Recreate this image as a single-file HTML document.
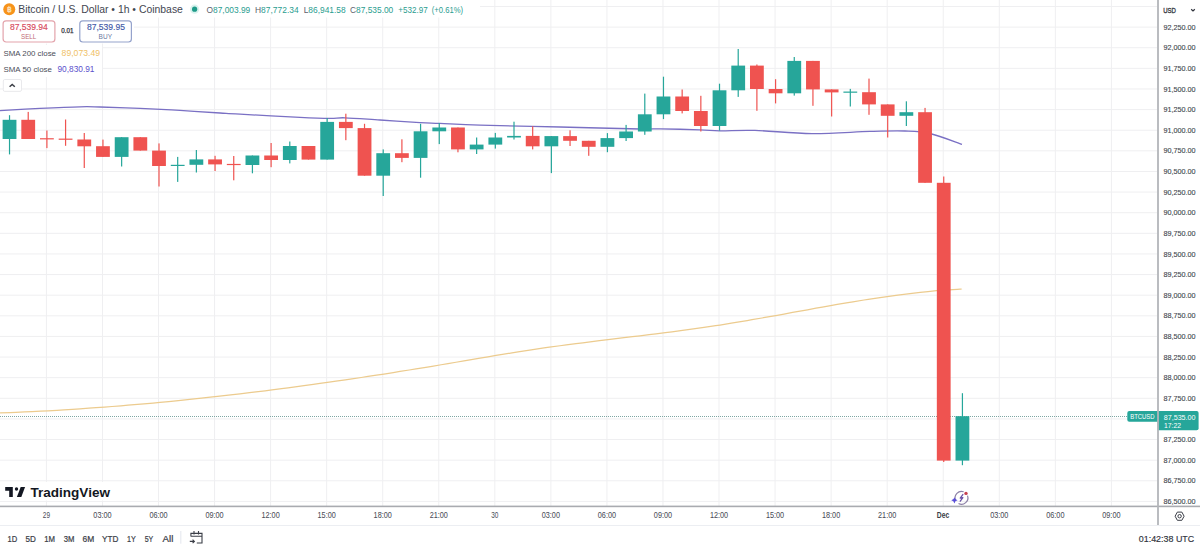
<!DOCTYPE html><html><head><meta charset="utf-8"><style>
html,body{margin:0;padding:0;background:#fff;width:1200px;height:547px;overflow:hidden}
svg{display:block}
text{font-family:"Liberation Sans",sans-serif}
</style></head><body>
<svg width="1200" height="547" viewBox="0 0 1200 547">
<rect width="1200" height="547" fill="#fff"/>

<rect x="0" y="5.98" width="1157.5" height="1" fill="#efeff1"/>
<rect x="0" y="26.60" width="1157.5" height="1" fill="#efeff1"/>
<rect x="0" y="47.22" width="1157.5" height="1" fill="#efeff1"/>
<rect x="0" y="67.84" width="1157.5" height="1" fill="#efeff1"/>
<rect x="0" y="88.47" width="1157.5" height="1" fill="#efeff1"/>
<rect x="0" y="109.09" width="1157.5" height="1" fill="#efeff1"/>
<rect x="0" y="129.71" width="1157.5" height="1" fill="#efeff1"/>
<rect x="0" y="150.33" width="1157.5" height="1" fill="#efeff1"/>
<rect x="0" y="170.95" width="1157.5" height="1" fill="#efeff1"/>
<rect x="0" y="191.58" width="1157.5" height="1" fill="#efeff1"/>
<rect x="0" y="212.20" width="1157.5" height="1" fill="#efeff1"/>
<rect x="0" y="232.82" width="1157.5" height="1" fill="#efeff1"/>
<rect x="0" y="253.44" width="1157.5" height="1" fill="#efeff1"/>
<rect x="0" y="274.06" width="1157.5" height="1" fill="#efeff1"/>
<rect x="0" y="294.69" width="1157.5" height="1" fill="#efeff1"/>
<rect x="0" y="315.31" width="1157.5" height="1" fill="#efeff1"/>
<rect x="0" y="335.93" width="1157.5" height="1" fill="#efeff1"/>
<rect x="0" y="356.55" width="1157.5" height="1" fill="#efeff1"/>
<rect x="0" y="377.17" width="1157.5" height="1" fill="#efeff1"/>
<rect x="0" y="397.80" width="1157.5" height="1" fill="#efeff1"/>
<rect x="0" y="418.42" width="1157.5" height="1" fill="#efeff1"/>
<rect x="0" y="439.04" width="1157.5" height="1" fill="#efeff1"/>
<rect x="0" y="459.66" width="1157.5" height="1" fill="#efeff1"/>
<rect x="0" y="480.28" width="1157.5" height="1" fill="#efeff1"/>
<rect x="0" y="500.91" width="1157.5" height="1" fill="#efeff1"/>
<rect x="45.90" y="0" width="1" height="506" fill="#efeff1"/>
<rect x="101.95" y="0" width="1" height="506" fill="#efeff1"/>
<rect x="158.00" y="0" width="1" height="506" fill="#efeff1"/>
<rect x="214.06" y="0" width="1" height="506" fill="#efeff1"/>
<rect x="270.11" y="0" width="1" height="506" fill="#efeff1"/>
<rect x="326.16" y="0" width="1" height="506" fill="#efeff1"/>
<rect x="382.21" y="0" width="1" height="506" fill="#efeff1"/>
<rect x="438.26" y="0" width="1" height="506" fill="#efeff1"/>
<rect x="494.32" y="0" width="1" height="506" fill="#efeff1"/>
<rect x="550.37" y="0" width="1" height="506" fill="#efeff1"/>
<rect x="606.42" y="0" width="1" height="506" fill="#efeff1"/>
<rect x="662.47" y="0" width="1" height="506" fill="#efeff1"/>
<rect x="718.52" y="0" width="1" height="506" fill="#efeff1"/>
<rect x="774.58" y="0" width="1" height="506" fill="#efeff1"/>
<rect x="830.63" y="0" width="1" height="506" fill="#efeff1"/>
<rect x="886.68" y="0" width="1" height="506" fill="#efeff1"/>
<rect x="942.73" y="0" width="1" height="506" fill="#efeff1"/>
<rect x="998.78" y="0" width="1" height="506" fill="#efeff1"/>
<rect x="1054.84" y="0" width="1" height="506" fill="#efeff1"/>
<rect x="1110.89" y="0" width="1" height="506" fill="#efeff1"/>
<path d="M0.00 412.99 C2.67 412.88 10.67 412.58 16.00 412.35 C21.33 412.12 26.67 411.87 32.00 411.61 C37.33 411.34 42.67 411.07 48.00 410.77 C53.33 410.48 58.67 410.17 64.00 409.84 C69.33 409.51 74.67 409.17 80.00 408.82 C85.33 408.46 90.67 408.09 96.00 407.70 C101.33 407.31 106.67 406.91 112.00 406.50 C117.33 406.08 122.67 405.65 128.00 405.20 C133.33 404.76 138.67 404.30 144.00 403.82 C149.33 403.35 154.67 402.86 160.00 402.36 C165.33 401.86 170.67 401.34 176.00 400.82 C181.33 400.29 186.67 399.75 192.00 399.19 C197.33 398.63 202.67 398.07 208.00 397.48 C213.33 396.90 218.67 396.31 224.00 395.70 C229.33 395.09 234.67 394.47 240.00 393.84 C245.33 393.21 250.67 392.57 256.00 391.91 C261.33 391.25 266.67 390.59 272.00 389.91 C277.33 389.23 282.67 388.54 288.00 387.83 C293.33 387.13 298.67 386.41 304.00 385.69 C309.33 384.96 314.67 384.23 320.00 383.48 C325.33 382.73 330.67 381.97 336.00 381.20 C341.33 380.43 346.67 379.66 352.00 378.87 C357.33 378.08 362.67 377.28 368.00 376.47 C373.33 375.66 378.67 374.83 384.00 374.01 C389.33 373.18 394.67 372.34 400.00 371.49 C405.33 370.64 410.67 369.78 416.00 368.91 C421.33 368.05 426.67 367.17 432.00 366.28 C437.33 365.40 442.67 364.50 448.00 363.60 C453.33 362.70 458.67 361.79 464.00 360.89 C469.33 359.98 474.67 359.07 480.00 358.17 C485.33 357.28 490.67 356.38 496.00 355.49 C501.33 354.61 506.67 353.73 512.00 352.88 C517.33 352.03 522.67 351.18 528.00 350.37 C533.33 349.55 538.67 348.75 544.00 347.99 C549.33 347.22 554.67 346.48 560.00 345.75 C565.33 345.03 570.67 344.33 576.00 343.64 C581.33 342.95 586.67 342.28 592.00 341.61 C597.33 340.95 602.67 340.30 608.00 339.65 C613.33 339.00 618.67 338.36 624.00 337.71 C629.33 337.07 634.67 336.43 640.00 335.78 C645.33 335.13 650.67 334.48 656.00 333.81 C661.33 333.15 666.67 332.47 672.00 331.78 C677.33 331.09 682.67 330.39 688.00 329.66 C693.33 328.93 698.67 328.19 704.00 327.42 C709.33 326.65 714.67 325.85 720.00 325.02 C725.33 324.20 730.67 323.34 736.00 322.46 C741.33 321.58 746.67 320.67 752.00 319.74 C757.33 318.82 762.67 317.88 768.00 316.93 C773.33 315.98 778.67 315.01 784.00 314.04 C789.33 313.08 794.67 312.10 800.00 311.13 C805.33 310.17 810.67 309.19 816.00 308.24 C821.33 307.28 826.67 306.32 832.00 305.39 C837.33 304.45 842.67 303.53 848.00 302.63 C853.33 301.73 858.67 300.85 864.00 300.00 C869.33 299.15 874.67 298.33 880.00 297.54 C885.33 296.75 890.67 296.00 896.00 295.28 C901.33 294.57 906.67 293.90 912.00 293.27 C917.33 292.65 922.67 292.07 928.00 291.55 C933.33 291.03 938.67 290.55 944.00 290.15 C949.33 289.74 957.17 289.29 960.00 289.11 C962.83 288.93 960.83 289.06 961.00 289.06" fill="none" stroke="#eccb8e" stroke-width="1.25"/>
<path d="M0.00 110.60 C6.67 110.23 26.67 109.03 40.00 108.40 C53.33 107.77 70.00 107.03 80.00 106.80 C90.00 106.57 90.00 106.73 100.00 107.00 C110.00 107.27 126.67 107.83 140.00 108.40 C153.33 108.97 166.67 109.63 180.00 110.40 C193.33 111.17 210.00 112.37 220.00 113.00 C230.00 113.63 226.67 113.47 240.00 114.20 C253.33 114.93 285.00 116.70 300.00 117.40 C315.00 118.10 322.50 118.33 330.00 118.40 C337.50 118.47 336.67 117.53 345.00 117.80 C353.33 118.07 367.50 119.20 380.00 120.00 C392.50 120.80 410.00 122.03 420.00 122.60 C430.00 123.17 430.00 122.97 440.00 123.40 C450.00 123.83 460.00 124.60 480.00 125.20 C500.00 125.80 533.33 126.37 560.00 127.00 C586.67 127.63 623.33 128.70 640.00 129.00 C656.67 129.30 650.00 128.67 660.00 128.80 C670.00 128.93 690.00 129.47 700.00 129.80 C710.00 130.13 710.83 130.70 720.00 130.80 C729.17 130.90 739.67 129.93 755.00 130.40 C770.33 130.87 792.83 133.43 812.00 133.60 C831.17 133.77 854.50 131.83 870.00 131.40 C885.50 130.97 895.00 130.65 905.00 131.00 C915.00 131.35 920.50 131.27 930.00 133.50 C939.50 135.73 956.67 142.58 962.00 144.40" fill="none" stroke="#7a70c4" stroke-width="1.3"/>
<line x1="0" y1="416.5" x2="1157" y2="416.5" stroke="#7fa6a3" stroke-width="1" stroke-dasharray="1 1"/>
<rect x="8.93" y="115.20" width="1.2" height="39.20" fill="#26a69a"/>
<rect x="2.63" y="119.80" width="13.80" height="19.20" fill="#26a69a"/>
<rect x="27.62" y="111.90" width="1.2" height="27.10" fill="#ef5350"/>
<rect x="21.32" y="119.80" width="13.80" height="19.20" fill="#ef5350"/>
<rect x="46.30" y="130.50" width="1.2" height="17.60" fill="#ef5350"/>
<rect x="40.00" y="138.20" width="13.80" height="1.20" fill="#ef5350"/>
<rect x="64.98" y="119.50" width="1.2" height="26.30" fill="#ef5350"/>
<rect x="58.68" y="138.60" width="13.80" height="1.20" fill="#ef5350"/>
<rect x="83.67" y="133.00" width="1.2" height="35.00" fill="#ef5350"/>
<rect x="77.37" y="139.50" width="13.80" height="6.80" fill="#ef5350"/>
<rect x="102.35" y="139.60" width="1.2" height="17.30" fill="#ef5350"/>
<rect x="96.05" y="146.20" width="13.80" height="10.70" fill="#ef5350"/>
<rect x="121.04" y="137.20" width="1.2" height="29.30" fill="#26a69a"/>
<rect x="114.74" y="137.20" width="13.80" height="19.70" fill="#26a69a"/>
<rect x="139.72" y="137.20" width="1.2" height="13.40" fill="#ef5350"/>
<rect x="133.42" y="137.20" width="13.80" height="13.40" fill="#ef5350"/>
<rect x="158.40" y="143.40" width="1.2" height="43.10" fill="#ef5350"/>
<rect x="152.10" y="150.60" width="13.80" height="15.40" fill="#ef5350"/>
<rect x="177.09" y="156.90" width="1.2" height="25.00" fill="#26a69a"/>
<rect x="170.79" y="164.80" width="13.80" height="1.20" fill="#26a69a"/>
<rect x="195.77" y="150.00" width="1.2" height="22.50" fill="#26a69a"/>
<rect x="189.47" y="159.40" width="13.80" height="5.40" fill="#26a69a"/>
<rect x="214.46" y="155.80" width="1.2" height="15.20" fill="#ef5350"/>
<rect x="208.16" y="159.40" width="13.80" height="5.00" fill="#ef5350"/>
<rect x="233.14" y="156.00" width="1.2" height="24.30" fill="#ef5350"/>
<rect x="226.84" y="163.90" width="13.80" height="1.20" fill="#ef5350"/>
<rect x="251.82" y="155.50" width="1.2" height="17.80" fill="#26a69a"/>
<rect x="245.52" y="155.50" width="13.80" height="9.50" fill="#26a69a"/>
<rect x="270.51" y="143.00" width="1.2" height="24.20" fill="#ef5350"/>
<rect x="264.21" y="155.50" width="13.80" height="4.50" fill="#ef5350"/>
<rect x="289.19" y="141.50" width="1.2" height="21.90" fill="#26a69a"/>
<rect x="282.89" y="146.00" width="13.80" height="14.00" fill="#26a69a"/>
<rect x="307.88" y="146.00" width="1.2" height="13.60" fill="#ef5350"/>
<rect x="301.58" y="146.00" width="13.80" height="13.60" fill="#ef5350"/>
<rect x="326.56" y="118.00" width="1.2" height="41.60" fill="#26a69a"/>
<rect x="320.26" y="121.90" width="13.80" height="37.70" fill="#26a69a"/>
<rect x="345.24" y="113.70" width="1.2" height="26.50" fill="#ef5350"/>
<rect x="338.94" y="121.90" width="13.80" height="6.20" fill="#ef5350"/>
<rect x="363.93" y="123.80" width="1.2" height="51.90" fill="#ef5350"/>
<rect x="357.63" y="128.10" width="13.80" height="47.60" fill="#ef5350"/>
<rect x="382.61" y="149.40" width="1.2" height="46.60" fill="#26a69a"/>
<rect x="376.31" y="153.20" width="13.80" height="22.50" fill="#26a69a"/>
<rect x="401.30" y="139.30" width="1.2" height="22.90" fill="#ef5350"/>
<rect x="395.00" y="153.20" width="13.80" height="4.70" fill="#ef5350"/>
<rect x="419.98" y="123.80" width="1.2" height="53.90" fill="#26a69a"/>
<rect x="413.68" y="131.30" width="13.80" height="26.60" fill="#26a69a"/>
<rect x="438.66" y="123.00" width="1.2" height="21.10" fill="#26a69a"/>
<rect x="432.36" y="127.50" width="13.80" height="3.80" fill="#26a69a"/>
<rect x="457.35" y="127.50" width="1.2" height="24.80" fill="#ef5350"/>
<rect x="451.05" y="127.50" width="13.80" height="21.90" fill="#ef5350"/>
<rect x="476.03" y="137.50" width="1.2" height="16.50" fill="#26a69a"/>
<rect x="469.73" y="144.60" width="13.80" height="4.80" fill="#26a69a"/>
<rect x="494.72" y="132.90" width="1.2" height="15.70" fill="#26a69a"/>
<rect x="488.42" y="137.50" width="13.80" height="7.10" fill="#26a69a"/>
<rect x="513.40" y="121.70" width="1.2" height="17.80" fill="#26a69a"/>
<rect x="507.10" y="135.90" width="13.80" height="1.60" fill="#26a69a"/>
<rect x="532.08" y="126.30" width="1.2" height="23.10" fill="#ef5350"/>
<rect x="525.78" y="135.90" width="13.80" height="10.40" fill="#ef5350"/>
<rect x="550.77" y="136.10" width="1.2" height="37.00" fill="#26a69a"/>
<rect x="544.47" y="136.10" width="13.80" height="10.20" fill="#26a69a"/>
<rect x="569.45" y="130.30" width="1.2" height="15.70" fill="#ef5350"/>
<rect x="563.15" y="136.10" width="13.80" height="4.70" fill="#ef5350"/>
<rect x="588.14" y="140.80" width="1.2" height="15.00" fill="#ef5350"/>
<rect x="581.84" y="140.80" width="13.80" height="6.00" fill="#ef5350"/>
<rect x="606.82" y="133.10" width="1.2" height="19.10" fill="#26a69a"/>
<rect x="600.52" y="138.10" width="13.80" height="8.70" fill="#26a69a"/>
<rect x="625.50" y="124.90" width="1.2" height="16.10" fill="#26a69a"/>
<rect x="619.20" y="131.50" width="13.80" height="6.60" fill="#26a69a"/>
<rect x="644.19" y="93.60" width="1.2" height="41.20" fill="#26a69a"/>
<rect x="637.89" y="114.30" width="13.80" height="17.20" fill="#26a69a"/>
<rect x="662.87" y="76.70" width="1.2" height="42.40" fill="#26a69a"/>
<rect x="656.57" y="96.50" width="13.80" height="17.80" fill="#26a69a"/>
<rect x="681.56" y="89.50" width="1.2" height="23.90" fill="#ef5350"/>
<rect x="675.26" y="96.50" width="13.80" height="14.50" fill="#ef5350"/>
<rect x="700.24" y="95.80" width="1.2" height="35.70" fill="#ef5350"/>
<rect x="693.94" y="111.00" width="13.80" height="15.00" fill="#ef5350"/>
<rect x="718.92" y="83.70" width="1.2" height="47.00" fill="#26a69a"/>
<rect x="712.62" y="90.30" width="13.80" height="35.70" fill="#26a69a"/>
<rect x="737.61" y="49.00" width="1.2" height="47.90" fill="#26a69a"/>
<rect x="731.31" y="65.60" width="13.80" height="24.70" fill="#26a69a"/>
<rect x="756.29" y="64.50" width="1.2" height="46.30" fill="#ef5350"/>
<rect x="749.99" y="65.60" width="13.80" height="23.40" fill="#ef5350"/>
<rect x="774.98" y="79.20" width="1.2" height="24.20" fill="#ef5350"/>
<rect x="768.68" y="89.00" width="13.80" height="4.30" fill="#ef5350"/>
<rect x="793.66" y="57.00" width="1.2" height="38.60" fill="#26a69a"/>
<rect x="787.36" y="60.90" width="13.80" height="32.40" fill="#26a69a"/>
<rect x="812.34" y="60.90" width="1.2" height="44.90" fill="#ef5350"/>
<rect x="806.04" y="60.90" width="13.80" height="28.50" fill="#ef5350"/>
<rect x="831.03" y="89.40" width="1.2" height="27.10" fill="#ef5350"/>
<rect x="824.73" y="89.40" width="13.80" height="3.00" fill="#ef5350"/>
<rect x="849.71" y="88.90" width="1.2" height="17.60" fill="#26a69a"/>
<rect x="843.41" y="91.55" width="13.80" height="1.20" fill="#26a69a"/>
<rect x="868.40" y="78.60" width="1.2" height="36.20" fill="#ef5350"/>
<rect x="862.10" y="92.20" width="13.80" height="12.20" fill="#ef5350"/>
<rect x="887.08" y="104.40" width="1.2" height="33.10" fill="#ef5350"/>
<rect x="880.78" y="104.40" width="13.80" height="11.40" fill="#ef5350"/>
<rect x="905.76" y="101.30" width="1.2" height="24.70" fill="#26a69a"/>
<rect x="899.46" y="112.20" width="13.80" height="3.60" fill="#26a69a"/>
<rect x="924.45" y="107.90" width="1.2" height="74.90" fill="#ef5350"/>
<rect x="918.15" y="112.20" width="13.80" height="70.60" fill="#ef5350"/>
<rect x="943.13" y="176.50" width="1.2" height="285.50" fill="#ef5350"/>
<rect x="936.83" y="182.80" width="13.80" height="277.80" fill="#ef5350"/>
<rect x="961.82" y="393.20" width="1.2" height="72.00" fill="#26a69a"/>
<rect x="955.52" y="416.20" width="13.80" height="44.40" fill="#26a69a"/>
<rect x="0" y="505.6" width="1200" height="1.6" fill="#a9abb0"/>
<rect x="0" y="525" width="1200" height="1" fill="#eceef2"/>
<text x="1163.40" y="29.70" font-size="7.20" fill="#43464f" stroke="#43464f" stroke-width="0.12" textLength="32.20" lengthAdjust="spacingAndGlyphs">92,250.00</text>
<text x="1163.40" y="50.32" font-size="7.20" fill="#43464f" stroke="#43464f" stroke-width="0.12" textLength="32.20" lengthAdjust="spacingAndGlyphs">92,000.00</text>
<text x="1163.40" y="70.94" font-size="7.20" fill="#43464f" stroke="#43464f" stroke-width="0.12" textLength="32.20" lengthAdjust="spacingAndGlyphs">91,750.00</text>
<text x="1163.40" y="91.57" font-size="7.20" fill="#43464f" stroke="#43464f" stroke-width="0.12" textLength="32.20" lengthAdjust="spacingAndGlyphs">91,500.00</text>
<text x="1163.40" y="112.19" font-size="7.20" fill="#43464f" stroke="#43464f" stroke-width="0.12" textLength="32.20" lengthAdjust="spacingAndGlyphs">91,250.00</text>
<text x="1163.40" y="132.81" font-size="7.20" fill="#43464f" stroke="#43464f" stroke-width="0.12" textLength="32.20" lengthAdjust="spacingAndGlyphs">91,000.00</text>
<text x="1163.40" y="153.43" font-size="7.20" fill="#43464f" stroke="#43464f" stroke-width="0.12" textLength="32.20" lengthAdjust="spacingAndGlyphs">90,750.00</text>
<text x="1163.40" y="174.05" font-size="7.20" fill="#43464f" stroke="#43464f" stroke-width="0.12" textLength="32.20" lengthAdjust="spacingAndGlyphs">90,500.00</text>
<text x="1163.40" y="194.68" font-size="7.20" fill="#43464f" stroke="#43464f" stroke-width="0.12" textLength="32.20" lengthAdjust="spacingAndGlyphs">90,250.00</text>
<text x="1163.40" y="215.30" font-size="7.20" fill="#43464f" stroke="#43464f" stroke-width="0.12" textLength="32.20" lengthAdjust="spacingAndGlyphs">90,000.00</text>
<text x="1163.40" y="235.92" font-size="7.20" fill="#43464f" stroke="#43464f" stroke-width="0.12" textLength="32.20" lengthAdjust="spacingAndGlyphs">89,750.00</text>
<text x="1163.40" y="256.54" font-size="7.20" fill="#43464f" stroke="#43464f" stroke-width="0.12" textLength="32.20" lengthAdjust="spacingAndGlyphs">89,500.00</text>
<text x="1163.40" y="277.16" font-size="7.20" fill="#43464f" stroke="#43464f" stroke-width="0.12" textLength="32.20" lengthAdjust="spacingAndGlyphs">89,250.00</text>
<text x="1163.40" y="297.79" font-size="7.20" fill="#43464f" stroke="#43464f" stroke-width="0.12" textLength="32.20" lengthAdjust="spacingAndGlyphs">89,000.00</text>
<text x="1163.40" y="318.41" font-size="7.20" fill="#43464f" stroke="#43464f" stroke-width="0.12" textLength="32.20" lengthAdjust="spacingAndGlyphs">88,750.00</text>
<text x="1163.40" y="339.03" font-size="7.20" fill="#43464f" stroke="#43464f" stroke-width="0.12" textLength="32.20" lengthAdjust="spacingAndGlyphs">88,500.00</text>
<text x="1163.40" y="359.65" font-size="7.20" fill="#43464f" stroke="#43464f" stroke-width="0.12" textLength="32.20" lengthAdjust="spacingAndGlyphs">88,250.00</text>
<text x="1163.40" y="380.27" font-size="7.20" fill="#43464f" stroke="#43464f" stroke-width="0.12" textLength="32.20" lengthAdjust="spacingAndGlyphs">88,000.00</text>
<text x="1163.40" y="400.90" font-size="7.20" fill="#43464f" stroke="#43464f" stroke-width="0.12" textLength="32.20" lengthAdjust="spacingAndGlyphs">87,750.00</text>
<text x="1163.40" y="442.14" font-size="7.20" fill="#43464f" stroke="#43464f" stroke-width="0.12" textLength="32.20" lengthAdjust="spacingAndGlyphs">87,250.00</text>
<text x="1163.40" y="462.76" font-size="7.20" fill="#43464f" stroke="#43464f" stroke-width="0.12" textLength="32.20" lengthAdjust="spacingAndGlyphs">87,000.00</text>
<text x="1163.40" y="483.38" font-size="7.20" fill="#43464f" stroke="#43464f" stroke-width="0.12" textLength="32.20" lengthAdjust="spacingAndGlyphs">86,750.00</text>
<text x="1163.40" y="504.01" font-size="7.20" fill="#43464f" stroke="#43464f" stroke-width="0.12" textLength="32.20" lengthAdjust="spacingAndGlyphs">86,500.00</text>
<text x="1163.20" y="12.60" font-size="7.60" fill="#2f323b" stroke="#2f323b" stroke-width="0.30" textLength="12.80" lengthAdjust="spacingAndGlyphs">USD</text>
<path d="M1191.2 9.2 L1193 10.9 L1194.8 9.2" fill="none" stroke="#2f323b" stroke-width="1.2"/>
<path d="M1129.3 411 H1158 V421.8 H1129.3 Q1127.3 421.8 1127.3 419.8 V413 Q1127.3 411 1129.3 411Z" fill="#26a69a"/>
<text x="1130.20" y="419.30" font-size="6.30" fill="#fff" textLength="24.30" lengthAdjust="spacingAndGlyphs">BTCUSD</text>
<path d="M1157.5 411 H1196.6 Q1198.6 411 1198.6 413 V428.3 Q1198.6 430.3 1196.6 430.3 H1157.5Z" fill="#26a69a"/>
<text x="1163.80" y="419.80" font-size="7.20" fill="#fff" textLength="31.70" lengthAdjust="spacingAndGlyphs">87,535.00</text>
<text x="1164.00" y="428.30" font-size="7.00" fill="#fff" textLength="17.00" lengthAdjust="spacingAndGlyphs">17:22</text>
<rect x="1157.1" y="0" width="1.8" height="525" fill="#b3b5ba"/>
<text x="42.80" y="518.10" font-size="8.40" fill="#4a4d57" textLength="7.20" lengthAdjust="spacingAndGlyphs">29</text>
<text x="93.35" y="518.10" font-size="8.40" fill="#4a4d57" stroke="#4a4d57" stroke-width="0.05" textLength="18.20" lengthAdjust="spacingAndGlyphs">03:00</text>
<text x="149.40" y="518.10" font-size="8.40" fill="#4a4d57" stroke="#4a4d57" stroke-width="0.05" textLength="18.20" lengthAdjust="spacingAndGlyphs">06:00</text>
<text x="205.46" y="518.10" font-size="8.40" fill="#4a4d57" stroke="#4a4d57" stroke-width="0.05" textLength="18.20" lengthAdjust="spacingAndGlyphs">09:00</text>
<text x="261.51" y="518.10" font-size="8.40" fill="#4a4d57" stroke="#4a4d57" stroke-width="0.05" textLength="18.20" lengthAdjust="spacingAndGlyphs">12:00</text>
<text x="317.56" y="518.10" font-size="8.40" fill="#4a4d57" stroke="#4a4d57" stroke-width="0.05" textLength="18.20" lengthAdjust="spacingAndGlyphs">15:00</text>
<text x="373.61" y="518.10" font-size="8.40" fill="#4a4d57" stroke="#4a4d57" stroke-width="0.05" textLength="18.20" lengthAdjust="spacingAndGlyphs">18:00</text>
<text x="429.66" y="518.10" font-size="8.40" fill="#4a4d57" stroke="#4a4d57" stroke-width="0.05" textLength="18.20" lengthAdjust="spacingAndGlyphs">21:00</text>
<text x="491.22" y="518.10" font-size="8.40" fill="#4a4d57" textLength="7.20" lengthAdjust="spacingAndGlyphs">30</text>
<text x="541.77" y="518.10" font-size="8.40" fill="#4a4d57" stroke="#4a4d57" stroke-width="0.05" textLength="18.20" lengthAdjust="spacingAndGlyphs">03:00</text>
<text x="597.82" y="518.10" font-size="8.40" fill="#4a4d57" stroke="#4a4d57" stroke-width="0.05" textLength="18.20" lengthAdjust="spacingAndGlyphs">06:00</text>
<text x="653.87" y="518.10" font-size="8.40" fill="#4a4d57" stroke="#4a4d57" stroke-width="0.05" textLength="18.20" lengthAdjust="spacingAndGlyphs">09:00</text>
<text x="709.92" y="518.10" font-size="8.40" fill="#4a4d57" stroke="#4a4d57" stroke-width="0.05" textLength="18.20" lengthAdjust="spacingAndGlyphs">12:00</text>
<text x="765.98" y="518.10" font-size="8.40" fill="#4a4d57" stroke="#4a4d57" stroke-width="0.05" textLength="18.20" lengthAdjust="spacingAndGlyphs">15:00</text>
<text x="822.03" y="518.10" font-size="8.40" fill="#4a4d57" stroke="#4a4d57" stroke-width="0.05" textLength="18.20" lengthAdjust="spacingAndGlyphs">18:00</text>
<text x="878.08" y="518.10" font-size="8.40" fill="#4a4d57" stroke="#4a4d57" stroke-width="0.05" textLength="18.20" lengthAdjust="spacingAndGlyphs">21:00</text>
<text x="936.75" y="518.10" font-size="8.60" fill="#3b3e47" font-weight="bold" textLength="12.45" lengthAdjust="spacingAndGlyphs">Dec</text>
<text x="990.18" y="518.10" font-size="8.40" fill="#4a4d57" stroke="#4a4d57" stroke-width="0.05" textLength="18.20" lengthAdjust="spacingAndGlyphs">03:00</text>
<text x="1046.24" y="518.10" font-size="8.40" fill="#4a4d57" stroke="#4a4d57" stroke-width="0.05" textLength="18.20" lengthAdjust="spacingAndGlyphs">06:00</text>
<text x="1102.29" y="518.10" font-size="8.40" fill="#4a4d57" stroke="#4a4d57" stroke-width="0.05" textLength="18.20" lengthAdjust="spacingAndGlyphs">09:00</text>
<path d="M1175.1 516.2 L1177.35 512.1 H1181.85 L1184.1 516.2 L1181.85 520.3 H1177.35Z" fill="none" stroke="#3b3e47" stroke-width="1"/>
<circle cx="1179.6" cy="516.2" r="1.7" fill="none" stroke="#3b3e47" stroke-width="1"/>
<text x="7.50" y="541.80" font-size="8.90" fill="#3b3e47" stroke="#3b3e47" stroke-width="0.22" textLength="9.70" lengthAdjust="spacingAndGlyphs">1D</text>
<text x="25.50" y="541.80" font-size="8.90" fill="#3b3e47" stroke="#3b3e47" stroke-width="0.22" textLength="10.30" lengthAdjust="spacingAndGlyphs">5D</text>
<text x="44.20" y="541.80" font-size="8.90" fill="#3b3e47" stroke="#3b3e47" stroke-width="0.22" textLength="10.80" lengthAdjust="spacingAndGlyphs">1M</text>
<text x="63.80" y="541.80" font-size="8.90" fill="#3b3e47" stroke="#3b3e47" stroke-width="0.22" textLength="10.70" lengthAdjust="spacingAndGlyphs">3M</text>
<text x="82.50" y="541.80" font-size="8.90" fill="#3b3e47" stroke="#3b3e47" stroke-width="0.22" textLength="11.70" lengthAdjust="spacingAndGlyphs">6M</text>
<text x="102.00" y="541.80" font-size="8.90" fill="#3b3e47" stroke="#3b3e47" stroke-width="0.22" textLength="16.30" lengthAdjust="spacingAndGlyphs">YTD</text>
<text x="127.00" y="541.80" font-size="8.90" fill="#3b3e47" stroke="#3b3e47" stroke-width="0.22" textLength="8.80" lengthAdjust="spacingAndGlyphs">1Y</text>
<text x="144.70" y="541.80" font-size="8.90" fill="#3b3e47" stroke="#3b3e47" stroke-width="0.22" textLength="8.60" lengthAdjust="spacingAndGlyphs">5Y</text>
<text x="162.50" y="541.80" font-size="8.90" fill="#3b3e47" stroke="#3b3e47" stroke-width="0.22" textLength="10.80" lengthAdjust="spacingAndGlyphs">All</text>
<rect x="180.4" y="531" width="0.9" height="12.7" fill="#e0e3eb"/>
<path d="M190.9 536.5 V533.4 H202 V543 H196.8 M190.9 536.3 H202 M194 531 V534.5 M198.5 531 V534.5 M189.8 541.4 H194.2 M192.6 539.6 L194.4 541.4 L192.6 543.2" fill="none" stroke="#3b3e47" stroke-width="1.1"/>
<text x="1138.80" y="541.60" font-size="8.80" fill="#2f323b" stroke="#2f323b" stroke-width="0.15" textLength="55.40" lengthAdjust="spacingAndGlyphs">01:42:38 UTC</text>
<rect x="0" y="0" width="480" height="17.5" fill="#fff"/>
<rect x="0" y="17" width="134" height="26.5" fill="#fff"/>
<rect x="0" y="45" width="102" height="32" fill="#fff"/>
<circle cx="9.25" cy="9.2" r="6" fill="#f7931a"/>
<text x="9.3" y="11.7" font-size="6.6" fill="#fbe3bd" text-anchor="middle" font-weight="bold">B</text>
<rect x="8.2" y="5.9" width="0.6" height="7.0" fill="#fbe3bd"/><rect x="9.6" y="5.9" width="0.6" height="7.0" fill="#fbe3bd"/>
<text x="18.20" y="12.90" font-size="10.20" fill="#434651" textLength="164.70" lengthAdjust="spacingAndGlyphs">Bitcoin / U.S. Dollar • 1h • Coinbase</text>
<circle cx="194.6" cy="9.2" r="4.6" fill="#d9f2ee"/><circle cx="194.6" cy="9.2" r="2.6" fill="#1e9a88"/>
<text x="206.50" y="12.60" font-size="9.00" fill="#5d606b" textLength="43.80" lengthAdjust="spacingAndGlyphs">O<tspan fill="#2a9d8f">87,003.99</tspan></text>
<text x="255.00" y="12.60" font-size="9.00" fill="#5d606b" textLength="43.70" lengthAdjust="spacingAndGlyphs">H<tspan fill="#2a9d8f">87,772.34</tspan></text>
<text x="303.70" y="12.60" font-size="9.00" fill="#5d606b" textLength="42.00" lengthAdjust="spacingAndGlyphs">L<tspan fill="#2a9d8f">86,941.58</tspan></text>
<text x="350.00" y="12.60" font-size="9.00" fill="#5d606b" textLength="43.30" lengthAdjust="spacingAndGlyphs">C<tspan fill="#2a9d8f">87,535.00</tspan></text>
<text x="398.30" y="12.60" font-size="9.00" fill="#2a9d8f" textLength="29.40" lengthAdjust="spacingAndGlyphs">+532.97</text>
<text x="431.80" y="12.60" font-size="9.00" fill="#2a9d8f" textLength="31.20" lengthAdjust="spacingAndGlyphs">(+0.61%)</text>
<rect x="3.1" y="20.8" width="51.8" height="21.2" rx="3" fill="#fff" stroke="#e3a3ab" stroke-width="1.2"/>
<text x="9.90" y="29.50" font-size="8.50" fill="#d84a5c" stroke="#d84a5c" stroke-width="0.15" textLength="37.90" lengthAdjust="spacingAndGlyphs">87,539.94</text>
<text x="21.00" y="38.50" font-size="6.60" fill="#c06a74" textLength="15.20" lengthAdjust="spacingAndGlyphs">SELL</text>
<text x="61.30" y="33.20" font-size="6.60" fill="#2f323b" stroke="#2f323b" stroke-width="0.25" textLength="12.20" lengthAdjust="spacingAndGlyphs">0.01</text>
<rect x="79.8" y="20.8" width="51.6" height="21.2" rx="3" fill="#fff" stroke="#95a3cc" stroke-width="1.2"/>
<text x="86.90" y="29.50" font-size="8.50" fill="#4259a8" stroke="#4259a8" stroke-width="0.15" textLength="38.00" lengthAdjust="spacingAndGlyphs">87,539.95</text>
<text x="98.60" y="38.50" font-size="6.60" fill="#6a77a0" textLength="13.40" lengthAdjust="spacingAndGlyphs">BUY</text>
<text x="3.50" y="56.20" font-size="7.90" fill="#4a4d57" textLength="52.50" lengthAdjust="spacingAndGlyphs">SMA 200 close</text>
<text x="61.60" y="56.20" font-size="8.40" fill="#efbf68" textLength="38.50" lengthAdjust="spacingAndGlyphs">89,073.49</text>
<text x="3.50" y="71.90" font-size="7.90" fill="#4a4d57" textLength="48.40" lengthAdjust="spacingAndGlyphs">SMA 50 close</text>
<text x="57.50" y="71.90" font-size="8.30" fill="#5b50cc" textLength="37.00" lengthAdjust="spacingAndGlyphs">90,830.91</text>
<rect x="3.3" y="79.5" width="18.2" height="11.9" rx="1.5" fill="#fff" stroke="#e6e7ea" stroke-width="0.9"/>
<path d="M9.6 86.8 L12.2 84.5 L14.8 86.8" fill="none" stroke="#3a3d45" stroke-width="1.5"/>
<rect x="0" y="482" width="116" height="18.5" fill="#fff"/>
<path d="M5.2 486.9 H12.8 V496.9 H9.2 V490.7 H5.2Z" fill="#131722"/>
<circle cx="16.5" cy="489" r="1.7" fill="#131722"/>
<path d="M20.7 486.9 H25.1 L21.3 496.9 H16.9Z" fill="#131722"/>
<text x="30.50" y="496.60" font-size="13.60" fill="#131722" font-weight="bold" textLength="79.47" lengthAdjust="spacingAndGlyphs">TradingView</text>
<path d="M967.51 495.61 A6.40 6.40 0 0 1 958.50 503.45 M955.57 500.20 A6.40 6.40 0 0 1 963.69 491.79" fill="none" stroke="#8c80a6" stroke-width="1.2"/>
<path d="M963.2 494.2 L960.2 498.1 L962.9 497.6 L959.9 501.6" fill="none" stroke="#6a52a6" stroke-width="1.25" stroke-linejoin="round"/>
<path d="M954.4 497.2 Q954.9 499.8 957.5 500.3 Q954.9 500.8 954.4 503.4 Q953.9 500.8 951.3 500.3 Q953.9 499.8 954.4 497.2Z" fill="#5a4fd8"/>
<circle cx="966" cy="493.4" r="1.7" fill="#c8414f"/>
</svg></body></html>
